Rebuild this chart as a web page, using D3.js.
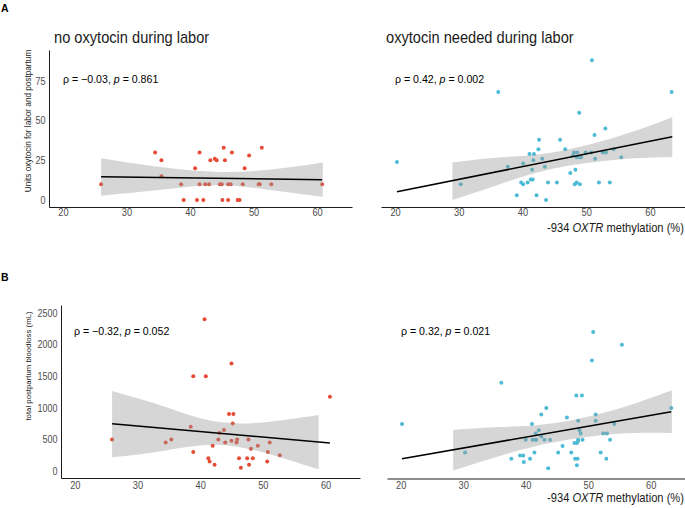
<!DOCTYPE html>
<html>
<head>
<meta charset="utf-8">
<script src="https://cdn.jsdelivr.net/npm/d3@7"></script>
<style>
  body { margin: 0; background: #fff; }
  svg { font-family: "Liberation Sans", Arial, sans-serif; }
  .axis text { fill: #4d4d4d; }
  .axis path { stroke: #1a1a1a; stroke-width: 1; }
</style>
</head>
<body>
<div id="chart"></div>
<script>
// -934 OXTR methylation (%) and outcomes

// A, no oxytocin during labor
const noOxyMethA = [26.0, 34.5, 35.5, 35.5, 38.6, 39.0, 40.8, 41.1, 41.5, 41.5, 42.1, 42.4, 43.0, 43.2, 43.9, 44.2,
  44.7, 45.0, 45.1, 45.3, 45.5, 46.0, 46.0, 46.4, 46.6, 47.5, 47.8, 48.3, 48.6, 49.3, 50.8, 51.0, 51.3, 52.8, 60.8];
const noOxyUnits = [10, 30, 25, 15, 10, 0, 20, 0, 30, 10, 0, 10, 10, 25, 26, 25,
  10, 10, 0, 33, 25, 10, 0, 10, 30, 0, 0, 10, 20, 28, 10, 10, 33, 10, 10];

// A, oxytocin needed during labor
const oxyMethA = [20.3, 30.3, 36.2, 37.7, 39.1, 39.8, 40.1, 40.8, 41.3, 41.6, 40.1, 41.5, 41.7, 41.1, 41.8, 42.5, 42.6,
  42.2, 43.1, 43.5, 43.7, 44.0, 45.4, 45.9, 46.7, 47.5, 47.9, 48.1, 48.3, 48.2, 48.5, 48.5, 48.6, 49.0, 49.0, 49.2,
  48.9, 49.9, 50.8, 50.9, 51.3, 51.4, 52.0, 52.6, 53.0, 53.1, 53.7, 54.3, 55.5, 63.4];
const oxyUnits = [24, 10, 68, 21, 3, 11, 10, 11, 13, 13, 23, 19, 25, 29, 29, 32, 38,
  3, 26, 21, 0, 11, 11, 38, 32, 17, 28, 30, 19, 10, 11, 27, 30, 27, 10, 27,
  55, 30, 30, 88, 41, 26, 11, 30, 45, 30, 11, 32, 27, 68];

// B, no oxytocin during labor
const noOxyMethB = [25.95, 34.5, 35.4, 38.5, 38.9, 38.9, 40.7, 40.9, 41.3, 41.5, 42.0, 42.3, 42.9, 43.1, 43.8, 44.0,
  44.6, 45.0, 45.0, 45.2, 45.3, 45.8, 45.9, 46.2, 46.5, 47.5, 47.7, 47.8, 48.1, 48.4, 49.2, 50.7, 50.8, 51.1, 52.7, 60.7];
const bloodNoOxy = [500, 450, 500, 700, 300, 1500, 2400, 1500, 200, 150, 400, 100, 500, 600, 650, 450,
  900, 1700, 480, 750, 900, 450, 500, 200, 50, 200, 500, 100, 350, 200, 400, 150, 300, 450, 250, 1175];

// B, oxytocin needed during labor
const oxyMethB = [20.2, 30.3, 36.1, 37.7, 39.1, 39.6, 39.7, 40.0, 40.7, 41.0, 41.1, 41.4, 41.5, 41.6, 41.7, 42.1, 42.5,
  42.5, 43.0, 43.3, 43.6, 43.9, 45.2, 45.9, 46.6, 47.3, 47.8, 47.9, 48.1, 48.2, 48.2, 48.3, 48.4, 48.4, 48.4, 48.6,
  48.8, 49.0, 49.1, 50.6, 50.8, 51.2, 51.2, 52.0, 52.4, 52.9, 53.0, 53.5, 54.2, 55.4, 63.3];
const bloodOxy = [750, 300, 1400, 200, 250, 250, 150, 500, 200, 750, 500, 300, 500, 600, 500, 650, 900,
  550, 500, 1000, 50, 500, 300, 400, 850, 300, 450, 200, 1200, 450, 100, 200, 800, 500, 480, 650,
  600, 1200, 500, 1750, 2200, 900, 800, 300, 600, 200, 600, 500, 750, 2000, 1000];

// lm fit lines (ends) and 95% bands
const fitXA1 = [26.0, 60.8], fitYA1 = [14.7, 12.8];
const bandXA1 = [26.0, 35, 44, 52, 60.9], bandLoA1 = [2.7, 6.3, 9.3, 6.7, 2.1], bandHiA1 = [26.3, 21.0, 17.8, 18.9, 23.7];
const fitXA2 = [20.3, 63.5], fitYA2 = [5.2, 39.9];
const bandXA2 = [29.0, 35.75, 44.7, 55.2, 63.5], bandLoA2 = [0, 9.0, 19.7, 25.6, 27.1], bandHiA2 = [23.7, 26.7, 30.0, 40.3, 52.1];
const fitXB1 = [25.95, 60.7], fitYB1 = [749, 443];
const bandXB1 = [25.95, 34.35, 43.4, 52.4, 58.9], bandLoB1 = [216, 322, 411, 227, 26], bandHiB1 = [1266, 1018, 770, 796, 886];
const fitXB2 = [20.2, 63.3], fitYB2 = [200, 944];
const bandXB2 = [28.4, 36.1, 44.7, 54.8, 63.4], bandLoB2 = [16, 253, 464, 596, 606], bandHiB2 = [659, 701, 765, 991, 1281];

const xTicks = [20, 30, 40, 50, 60];
const unitTicks = [0, 25, 50, 75];
const bloodTicks = [0, 500, 1000, 1500, 2000, 2500];

const red = "#E64B35", blue = "#4DBBD5";

const svg = d3.select("#chart").append("svg")
    .attr("width", 685)
    .attr("height", 508);

const xDomain = [17.8, 65.5];
const squeeze = 0.9; // the original type is a bit narrow

function drawPanel(p) {
    const x = d3.scaleLinear().domain(xDomain).range([p.left, p.right]);
    const y = d3.scaleLinear().domain(p.yDomain).range([p.bottom, p.top]);
    const g = svg.append("g");

    // points first, band goes over them like ggplot
    g.selectAll("circle")
        .data(p.xs.map((d, i) => [d, p.ys[i]]))
        .enter().append("circle")
        .attr("cx", d => x(d[0]))
        .attr("cy", d => y(d[1]))
        .attr("r", 2)
        .attr("fill", p.color);

    const band = p.bandX.map((d, i) => [d, p.bandLo[i], p.bandHi[i]]);
    g.append("path")
        .datum(band)
        .attr("fill", "#999999")
        .attr("fill-opacity", 0.4)
        .attr("d", d3.area()
            .x(d => x(d[0]))
            .y0(d => y(d[1]))
            .y1(d => y(d[2]))
            .curve(d3.curveNatural));

    g.append("path")
        .datum(p.fitX.map((d, i) => [d, p.fitY[i]]))
        .attr("fill", "none")
        .attr("stroke", "#000")
        .attr("stroke-width", 1.5)
        .attr("d", d3.line().x(d => x(d[0])).y(d => y(d[1])));

    g.append("g")
        .attr("class", "axis")
        .attr("transform", "translate(0," + p.bottom + ")")
        .call(d3.axisBottom(x).tickValues(xTicks).tickSize(0).tickPadding(p.xPad))
        .call(a => a.selectAll("text")
            .style("font-size", "10.3px")
            .attr("transform", "scale(" + squeeze + ",1)"));

    if (p.showY) {
        g.append("g")
            .attr("class", "axis")
            .attr("transform", "translate(" + p.left + ",0)")
            .call(d3.axisLeft(y).tickValues(p.yTicks).tickFormat(d3.format("d")).tickSize(0).tickPadding(3.8))
            .call(a => a.selectAll("text")
                .style("font-size", "10px")
                .attr("transform", "scale(" + squeeze + ",1)"));

        svg.append("text")
            .attr("transform", "translate(31," + p.yTitleY + ") rotate(-90)")
            .attr("text-anchor", "middle")
            .style("font-size", p.yTitleSize + "px")
            .attr("fill", "#1a1a1a")
            .text(p.yTitle);
    }

    if (p.title) {
        svg.append("text")
            .attr("transform", "translate(" + (p.left + 5) + ",43) scale(0.92,1)")
            .style("font-size", "15.9px")
            .attr("fill", "#1a1a1a")
            .text(p.title);
    }

    const ann = svg.append("text")
        .attr("x", p.annX)
        .attr("y", p.annY)
        .style("font-size", "10.6px")
        .attr("fill", "#000");
    ann.append("tspan").text("ρ = " + p.rho + ", ");
    ann.append("tspan").style("font-style", "italic").text("p");
    ann.append("tspan").text(" = " + p.pval);

    if (p.xTitleY) {
        const t = svg.append("text")
            .attr("transform", "translate(684," + p.xTitleY + ") scale(0.93,1)")
            .attr("text-anchor", "end")
            .style("font-size", "12px")
            .attr("fill", "#1a1a1a");
        t.append("tspan").text("-934 ");
        t.append("tspan").style("font-style", "italic").text("OXTR");
        t.append("tspan").text(" methylation (%)");
    }
}

drawPanel({
    left: 49, right: 352, top: 50, bottom: 207, yDomain: [-4.4, 94.5], yTicks: unitTicks,
    xs: noOxyMethA, ys: noOxyUnits, color: red,
    fitX: fitXA1, fitY: fitYA1, bandX: bandXA1, bandLo: bandLoA1, bandHi: bandHiA1,
    showY: true, yTitle: "Units oxytocin for labor and postpartum", yTitleY: 121, yTitleSize: 8.2,
    title: "no oxytocin during labor", rho: "\u22120.03", pval: "0.861", annX: 63, annY: 83, xPad: 1.8
});
drawPanel({
    left: 381, right: 685, top: 50, bottom: 207, yDomain: [-4.4, 94.5],
    xs: oxyMethA, ys: oxyUnits, color: blue,
    fitX: fitXA2, fitY: fitYA2, bandX: bandXA2, bandLo: bandLoA2, bandHi: bandHiA2,
    showY: false, title: "oxytocin needed during labor", rho: "0.42", pval: "0.002",
    annX: 395, annY: 83, xPad: 1.8, xTitleY: 232
});
drawPanel({
    left: 61, right: 360, top: 305, bottom: 478, yDomain: [-111, 2627], yTicks: bloodTicks,
    xs: noOxyMethB, ys: bloodNoOxy, color: red,
    fitX: fitXB1, fitY: fitYB1, bandX: bandXB1, bandLo: bandLoB1, bandHi: bandHiB1,
    showY: true, yTitle: "total postpartum bloodloss (mL)", yTitleY: 366, yTitleSize: 7.8,
    rho: "\u22120.32", pval: "0.052", annX: 74, annY: 335, xPad: 4
});
drawPanel({
    left: 387, right: 685, top: 305, bottom: 478.5, yDomain: [-111, 2627],
    xs: oxyMethB, ys: bloodOxy, color: blue,
    fitX: fitXB2, fitY: fitYB2, bandX: bandXB2, bandLo: bandLoB2, bandHi: bandHiB2,
    showY: false, rho: "0.32", pval: "0.021", annX: 401, annY: 335, xPad: 2.8, xTitleY: 502
});

// panel letters
svg.append("text").attr("x", 1).attr("y", 11.5)
    .style("font-size", "10.5px").style("font-weight", "bold").text("A");
svg.append("text").attr("x", 1).attr("y", 281)
    .style("font-size", "10.5px").style("font-weight", "bold").text("B");
</script>
</body>
</html>
